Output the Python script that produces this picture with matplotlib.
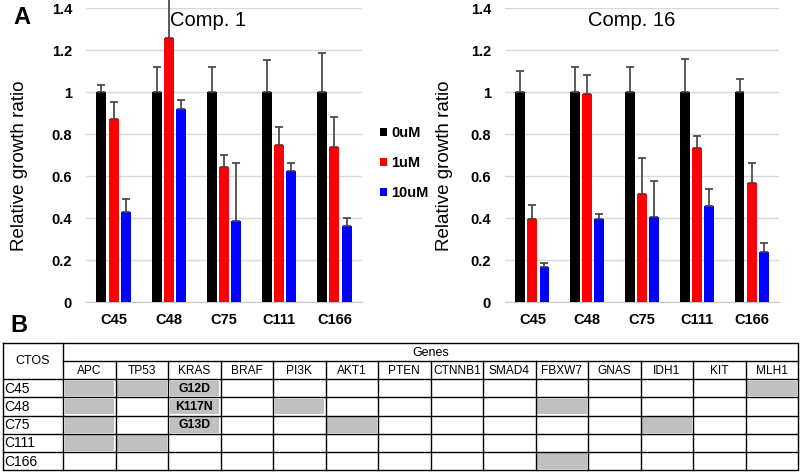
import matplotlib
matplotlib.use("Agg")
import matplotlib.pyplot as plt
from matplotlib.patches import Rectangle
import numpy as np

plt.rcParams['font.family'] = ['Liberation Sans', 'DejaVu Sans']

# ---------------- data ----------------
cell_lines = ["C45", "C48", "C75", "C111", "C166"]
doses = ["0uM", "1uM", "10uM"]
dose_colors = ["#000000", "#ff0000", "#0000ff"]

comp1_0uM = [1.0, 1.0, 1.0, 1.0, 1.0]
comp1_1uM = [0.87, 1.255, 0.645, 0.748, 0.74]
comp1_10uM = [0.43, 0.92, 0.388, 0.624, 0.364]
comp1_0uM_top = [1.035, 1.117, 1.12, 1.153, 1.185]
comp1_1uM_top = [0.95, 1.50, 0.70, 0.834, 0.88]
comp1_10uM_top = [0.49, 0.96, 0.66, 0.66, 0.402]

comp16_0uM = [1.0, 1.0, 1.0, 1.0, 1.0]
comp16_1uM = [0.395, 0.99, 0.512, 0.733, 0.566]
comp16_10uM = [0.167, 0.396, 0.404, 0.458, 0.239]
comp16_0uM_top = [1.10, 1.117, 1.12, 1.155, 1.061]
comp16_1uM_top = [0.461, 1.083, 0.686, 0.789, 0.662]
comp16_10uM_top = [0.186, 0.42, 0.576, 0.538, 0.28]

yticks = [0, 0.2, 0.4, 0.6, 0.8, 1, 1.2, 1.4]
ytick_labels = ["0", "0.2", "0.4", "0.6", "0.8", "1", "1.2", "1.4"]

genes = ["APC", "TP53", "KRAS", "BRAF", "PI3K", "AKT1", "PTEN", "CTNNB1",
         "SMAD4", "FBXW7", "GNAS", "IDH1", "KIT", "MLH1"]
ctos_rows = ["C45", "C48", "C75", "C111", "C166"]
mutated_C45 = ["APC", "TP53", "KRAS", "MLH1"]
mutated_C48 = ["APC", "KRAS", "PI3K", "FBXW7"]
mutated_C75 = ["APC", "KRAS", "AKT1", "IDH1"]
mutated_C111 = ["APC", "TP53"]
mutated_C166 = ["FBXW7"]
kras_labels = {"C45": "G12D", "C48": "K117N", "C75": "G13D"}

# ---------------- figure ----------------
W, H = 800, 473
fig = plt.figure(figsize=(8, 4.73), dpi=100)


def px_axes(x0, y_top, x1, y_bot):
    return [x0 / W, 1 - y_bot / H, (x1 - x0) / W, (y_bot - y_top) / H]


def bar_panel(ax, means, tops, title, title_x):
    x = np.arange(len(cell_lines))
    offsets = [-0.22, 0.0, 0.22]
    width = 0.18
    for k in range(3):
        m = np.array(means[k])
        t = np.array(tops[k])
        ax.bar(x + offsets[k], m, width=width, color=dose_colors[k],
               label=doses[k], zorder=3)
        ax.errorbar(x + offsets[k], m, yerr=[np.zeros_like(m), t - m],
                    fmt="none", ecolor="#404040", elinewidth=1.2,
                    capsize=3.2, capthick=1.2, zorder=4, clip_on=False)
    ax.set_ylim(0, 1.4)
    ax.set_xlim(-0.5, len(cell_lines) - 0.5)
    ax.set_yticks(yticks)
    ax.set_yticklabels(ytick_labels, fontsize=10.5, fontweight="bold")
    ax.set_xticks(x)
    ax.set_xticklabels(cell_lines, fontsize=10.5, fontweight="bold")
    ax.tick_params(axis="both", length=0)
    ax.tick_params(axis="y", pad=10)
    ax.tick_params(axis="x", pad=8)
    ax.grid(axis="y", color="#d9d9d9", linewidth=1.0, zorder=0)
    ax.set_axisbelow(True)
    for s in ["left", "right", "top"]:
        ax.spines[s].set_visible(False)
    ax.spines["bottom"].set_color("#c8c8c8")
    ax.set_ylabel("Relative growth ratio", fontsize=13.5)
    ax.text(title_x, 0.959, title, transform=ax.transAxes, ha="center",
            va="center", fontsize=14.5)


ax1 = fig.add_axes(px_axes(86, 8, 362, 302))
bar_panel(ax1, [comp1_0uM, comp1_1uM, comp1_10uM],
          [comp1_0uM_top, comp1_1uM_top, comp1_10uM_top], "Comp. 1", 0.444)
ax1.yaxis.set_label_coords(-0.21, 0.464)

ax2 = fig.add_axes(px_axes(505, 8, 779, 302))
bar_panel(ax2, [comp16_0uM, comp16_1uM, comp16_10uM],
          [comp16_0uM_top, comp16_1uM_top, comp16_10uM_top], "Comp. 16", 0.462)
ax2.yaxis.set_label_coords(-0.19, 0.464)

handles, labels = ax1.get_legend_handles_labels()
fig.legend(handles, labels, loc="upper left",
           bbox_to_anchor=(380 / W, 1 - 126 / H), frameon=False,
           prop={"weight": "bold", "size": 10.5},
           handlelength=0.45, handleheight=0.45, handletextpad=0.3,
           labelspacing=1.1, borderpad=0, borderaxespad=0)

fig.text(22 / W, 1 - 18 / H, "A", fontsize=17, fontweight="bold",
         ha="center", va="center")
fig.text(19 / W, 1 - 325 / H, "B", fontsize=17, fontweight="bold",
         ha="center", va="center")

# ---------------- table ----------------
tab = fig.add_axes([0, 0, 1, 1])
tab.set_xlim(0, W)
tab.set_ylim(H, 0)
tab.axis("off")

x_left, x_first, col_w = 2.5, 63.0, 52.5
x_right = x_first + col_w * len(genes)
y_top, y_hdr, row_h = 343.0, 361.0, 18.2
y_rows = [y_hdr + row_h * (i + 1) for i in range(len(ctos_rows) + 1)]
y_bot = y_rows[-1]

mutations = [mutated_C45, mutated_C48, mutated_C75, mutated_C111, mutated_C166]
for r, row in enumerate(ctos_rows):
    ry = y_rows[r]
    tab.text(x_left + 1.5, ry + row_h / 2 + 0.5, row, fontsize=10,
             ha="left", va="center")
    for g in mutations[r]:
        c = genes.index(g)
        cx = x_first + c * col_w
        tab.add_patch(Rectangle((cx + 1.5, ry + 1.3), col_w - 3, row_h - 2.6,
                                facecolor="#c0c0c0", edgecolor="none"))
        if g == "KRAS" and row in kras_labels:
            tab.text(cx + col_w / 2, ry + row_h / 2 + 0.5, kras_labels[row],
                     fontsize=8.8, fontweight="bold", ha="center",
                     va="center")

lw = 1.0
tab.plot([x_left, x_right, x_right, x_left, x_left],
         [y_top, y_top, y_bot, y_bot, y_top], color="black", lw=lw)
tab.plot([x_first, x_first], [y_top, y_bot], color="black", lw=lw)
tab.plot([x_first, x_right], [y_hdr, y_hdr], color="black", lw=lw)
for ry in y_rows[:-1]:
    tab.plot([x_left, x_right], [ry, ry], color="black", lw=lw)
for c in range(1, len(genes)):
    cx = x_first + c * col_w
    tab.plot([cx, cx], [y_hdr, y_bot], color="black", lw=lw)

tab.text((x_left + x_first) / 2, (y_top + y_rows[0]) / 2, "CTOS",
         fontsize=9, ha="center", va="center")
tab.text((x_first + x_right) / 2, (y_top + y_hdr) / 2 + 0.5, "Genes",
         fontsize=9, ha="center", va="center")
for c, g in enumerate(genes):
    tab.text(x_first + c * col_w + col_w / 2, (y_hdr + y_rows[0]) / 2 + 0.5,
             g, fontsize=8.6, ha="center", va="center")

fig.savefig("out.png", dpi=100)
